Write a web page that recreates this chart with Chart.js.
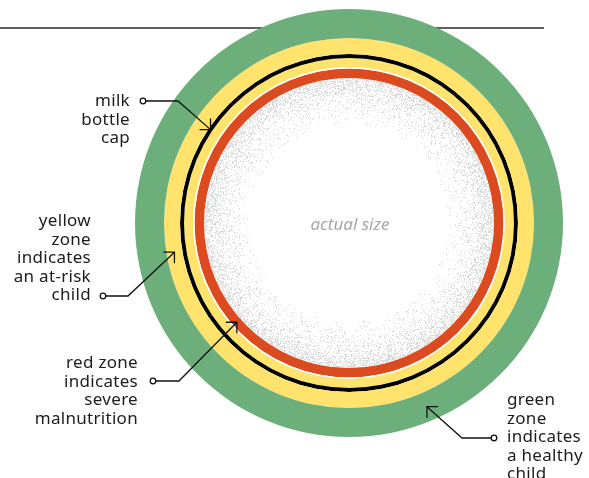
<!DOCTYPE html>
<html>
<head>
<meta charset="utf-8">
<script src="https://cdn.jsdelivr.net/npm/chart.js@4"></script>
<style>
  body{margin:0;background:#fff;}
  #wrap{position:relative;width:589px;height:478px;overflow:hidden;}
  .lbl{position:absolute;font-family:"Noto Sans",sans-serif;font-size:17px;letter-spacing:0.3px;line-height:18.5px;color:#1c1c1c;}
  .r{text-align:right;}
  #size{position:absolute;left:270px;top:212px;width:160px;text-align:center;font-family:"Noto Sans",sans-serif;font-style:italic;font-size:17px;color:#a8a8a8;}
</style>
</head>
<body>
<div id="wrap">
  <canvas id="myChart" width="589" height="478"></canvas>
  <div class="lbl r" style="right:459px;top:91px">milk<br>bottle<br>cap</div>
  <div class="lbl r" style="right:498px;top:211px">yellow<br>zone<br>indicates<br>an at-risk<br>child</div>
  <div class="lbl r" style="right:451px;top:353px">red zone<br>indicates<br>severe<br>malnutrition</div>
  <div class="lbl" style="left:507px;top:390px">green<br>zone<br>indicates<br>a healthy<br>child</div>
  <div id="size">actual size</div>
</div>
<script>
// rings from the outside in, band widths in figure units
const rings = ['green zone', 'yellow zone outer', 'milk bottle cap', 'yellow zone inner', 'gap', 'red zone', 'arm'];
const bandWidths = [29, 16, 4, 9, 1.5, 9.5, 45];
const ringColors = ['#6daf7b', '#ffe36c', '#000000', '#ffe36c', '#ffffff', '#dc4a20', 'rgba(0,0,0,0)'];

// callouts: which ring the arrow points at and at what angle (degrees)
const callouts = [
    {ring: 2, angle: -146, elbow: [178, 101], dot: [143, 101]},
    {ring: 1, angle: 170.5, elbow: [128, 296], dot: [103, 296]},
    {ring: 5, angle: 138.5, elbow: [179, 381], dot: [153, 381]},
    {ring: 0, angle: 67, elbow: [462, 438], dot: [494, 438]}
];

const speckle = {
    id: 'speckle',
    beforeDatasetsDraw(chart) {
        const ctx = chart.ctx;
        // top rule, hidden behind the circle
        ctx.save();
        ctx.strokeStyle = '#2a2a2a';
        ctx.lineWidth = 1.4;
        ctx.beginPath();
        ctx.moveTo(0, 28);
        ctx.lineTo(544, 28);
        ctx.stroke();
        ctx.restore();
    },
    afterDatasetsDraw(chart) {
        const ctx = chart.ctx;
        const arc = chart.getDatasetMeta(rings.length - 1).data[0];
        let seed = 7;
        const rnd = () => { seed = (seed * 16807) % 2147483647; return seed / 2147483647; };
        ctx.save();
        for (let i = 0; i < 9000; i++) {
            const d = -13 * Math.log(1 - rnd() * 0.98);
            if (d > arc.outerRadius - arc.innerRadius) continue;
            const r = arc.outerRadius - 0.5 - d;
            const a = rnd() * Math.PI * 2;
            const g = 210 + Math.floor(rnd() * 16);
            ctx.fillStyle = 'rgb(' + g + ',' + (g + 2) + ',' + (g + 2) + ')';
            ctx.fillRect(Math.floor(arc.x + r * Math.cos(a)), Math.floor(arc.y + r * Math.sin(a)), 1, 1);
        }
        ctx.restore();

        // callout lines
        ctx.save();
        ctx.strokeStyle = '#111';
        ctx.lineWidth = 1.3;
        callouts.forEach(c => {
            const el = chart.getDatasetMeta(c.ring).data[0];
            const rm = (el.innerRadius + el.outerRadius) / 2;
            const ang = c.angle * Math.PI / 180;
            const tx = el.x + rm * Math.cos(ang), ty = el.y + rm * Math.sin(ang);
            const [ex, ey] = c.elbow, [dx, dy] = c.dot;
            const sx = Math.sign(ex - tx), sy = Math.sign(ey - ty);
            ctx.beginPath();
            ctx.moveTo(dx + Math.sign(ex - dx) * 2.8, dy);
            ctx.lineTo(ex, ey);
            ctx.lineTo(tx, ty);
            ctx.moveTo(tx + sx * 11, ty);
            ctx.lineTo(tx, ty);
            ctx.lineTo(tx, ty + sy * 11);
            ctx.stroke();
            ctx.beginPath();
            ctx.arc(dx, dy, 2.8, 0, Math.PI * 2);
            ctx.fillStyle = '#fff';
            ctx.fill();
            ctx.stroke();
        });
        ctx.restore();
    }
};

const ctx = document.getElementById('myChart');
new Chart(ctx, {
    type: 'doughnut',
    data: {
        labels: ['band'],
        datasets: rings.map((name, i) => ({
            label: name,
            data: [1],
            weight: bandWidths[i],
            backgroundColor: ringColors[i],
            borderWidth: 0,
            hoverBorderWidth: 0,
            hoverOffset: 0
        }))
    },
    options: {
        responsive: false,
        animation: false,
        events: [],
        cutout: 100,
        layout: {padding: {left: 135, right: 26, top: 9, bottom: 41}},
        plugins: {legend: {display: false}, tooltip: {enabled: false}}
    },
    plugins: [speckle]
});
</script>
</body>
</html>
